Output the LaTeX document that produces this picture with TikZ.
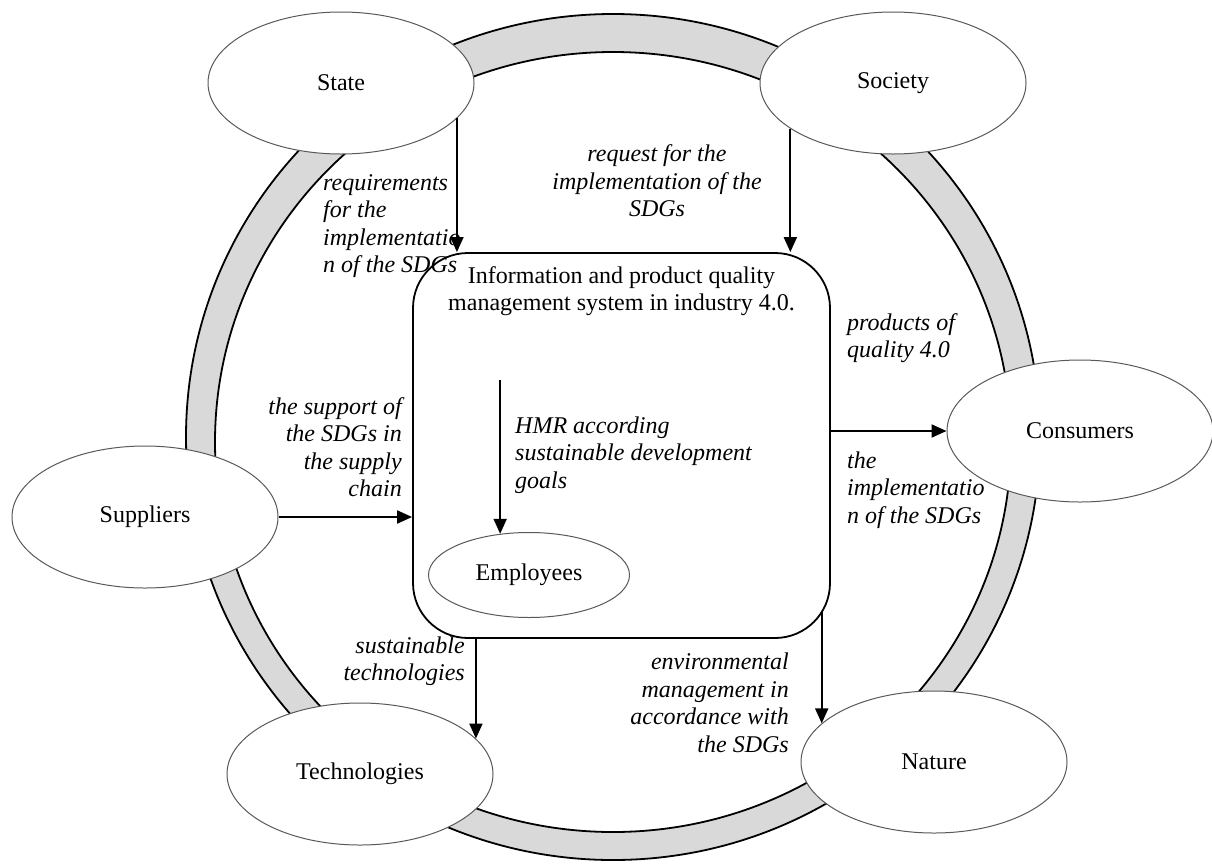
\documentclass[tikz,border=0pt]{standalone}
\usepackage{fontspec}
\setmainfont{Liberation Serif}
\usepackage{tikz}
\usetikzlibrary{shapes.geometric, arrows.meta, positioning}
\definecolor{ringgray}{HTML}{D9D9D9}
\newcommand{\figsize}{\fontsize{24}{27.5}\selectfont}
\tikzset{
  actor/.style={ellipse, draw=black!65, line width=1pt, fill=white,
                minimum width=266pt, minimum height=142pt, inner sep=0pt,
                font=\figsize},
  staff/.style={actor, minimum width=201pt, minimum height=85pt},
  system/.style={rectangle, draw, line width=1.8pt, fill=white,
                 rounded corners=55pt, minimum width=417pt,
                 minimum height=385pt},
  note/.style={inner sep=0pt, font=\figsize\itshape},
  arrow/.style={-{Triangle[length=15pt, width=13pt]}, line width=2pt},
}

\begin{document}
\begin{tikzpicture}[x=1pt, y=-1pt]
  \useasboundingbox (0,0) rectangle (1212,863);

  % ring round the system
  \fill[ringgray, even odd rule]
    (613,437) ellipse [x radius=427pt, y radius=423pt]
    (613,442) ellipse [x radius=398pt, y radius=390pt];
  \draw[line width=1.8pt] (613,437) ellipse [x radius=427pt, y radius=423pt];
  \draw[line width=1.8pt] (613,442) ellipse [x radius=398pt, y radius=390pt];

  \node[system] (box) at (621.5,445.5) {};
  \node[inner sep=0pt, align=center, font=\figsize, below=14pt of box.north] (title)
    {Information and product quality\\management system in industry 4.0.};

  \node[actor] (state)     at (341,83)   {State};
  \node[actor] (society)   at (893,83)   {Society};
  \node[actor] (suppliers) at (145,517)  {Suppliers};
  \node[actor] (consumers) at (1080,431) {Consumers};
  \node[actor] (tech)      at (360,774)  {Technologies};
  \node[actor] (nature)    at (934,762)  {Nature};
  \node[staff] (employees) at (529,575)  {Employees};

  % labels
  \node[note, anchor=west, align=left] (reqstate) at (323,226)
    {requirements\\for the\\implementatio\\n of the SDGs};
  \node[note, align=center] (reqsociety) at (657,181)
    {request for the\\implementation of the\\SDGs};
  \node[note, anchor=west, align=left] (products) at (847,338)
    {products of\\quality 4.0};
  \node[note, anchor=east, align=right] (support) at (402,447)
    {the support of\\the SDGs in\\the supply\\chain};
  \node[note, anchor=west, align=left] (hmr) at (515,455)
    {HMR according\\sustainable development\\goals};
  \node[note, anchor=west, align=left] (impl) at (847,490)
    {the\\implementatio\\n of the SDGs};
  \node[note, anchor=east, align=right] (susttech) at (465,661)
    {sustainable\\technologies};
  \node[note, anchor=east, align=right] (envman) at (789,703)
    {environmental\\management in\\accordance with\\the SDGs};

  \coordinate (hmrtop) at (500,380);
  \coordinate (boxcorner) at ([yshift=27pt]box.south east);

  \draw[arrow] (state.-17)   -- (state.-17 |- box.north);
  \draw[arrow] (society.-156) -- (society.-156 |- box.north);
  \draw[arrow] (suppliers.east) -- (suppliers.east -| box.west);
  \draw[arrow] (box.east |- consumers.west) -- (consumers.west);
  \draw[arrow] (tech.17 |- box.south) -- (tech.17);
  \draw[arrow] (nature.161 |- boxcorner) -- (nature.161);
  \draw[arrow] (employees.125 |- hmrtop) -- (employees.125);
\end{tikzpicture}
\end{document}
